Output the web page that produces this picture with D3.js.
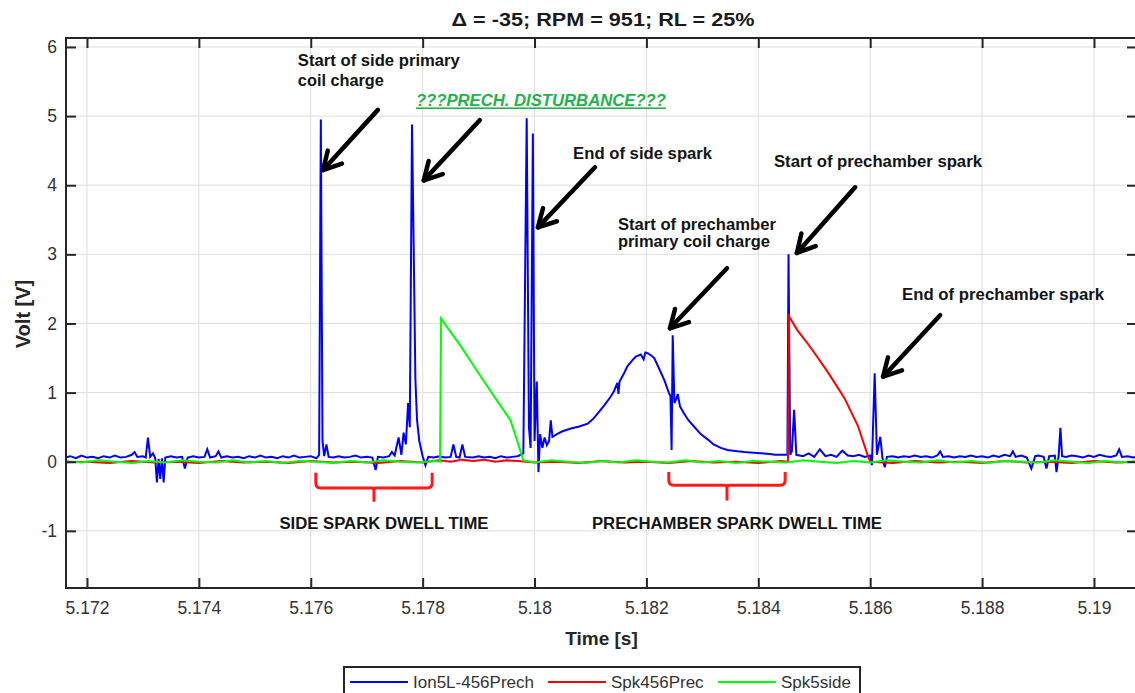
<!DOCTYPE html>
<meta charset="utf-8">
<script src="https://d3js.org/d3.v7.min.js"></script>
<style>
  body { margin: 0; background: #fff; }
  text { font-family: "Liberation Sans", Arial, sans-serif; }
</style>
<div id="chart"></div>
<script>

// ---- data ----
var xTicks = [5.172, 5.174, 5.176, 5.178, 5.18, 5.182, 5.184, 5.186, 5.188, 5.19];
var xTickLabels = ["5.172", "5.174", "5.176", "5.178", "5.18", "5.182", "5.184", "5.186", "5.188", "5.19"];
var yTicks = [-1, 0, 1, 2, 3, 4, 5, 6];
var yTickLabels = ["-1", "0", "1", "2", "3", "4", "5", "6"];
var seriesNames = ["Ion5L-456Prech", "Spk456Prec", "Spk5side"];

// Ion5L-456Prech [time s, volt]
var ion = [
  [5.17160,.06],[5.17170,.08],[5.17180,.05],[5.17190,.09],[5.17200,.06],[5.17210,.07],[5.17220,.05],
  [5.17230,.08],[5.17240,.06],[5.17250,.09],[5.17260,.06],[5.17270,.07],[5.17280,.10],[5.17285,.14],
  [5.17290,.07],[5.17300,.08],[5.17305,.06],[5.17309,.35],[5.17313,.07],[5.17318,.12],[5.17322,.05],
  [5.17325,-.30],[5.17328,.04],[5.17331,-.25],[5.17334,.05],[5.17337,-.30],[5.17340,.06],[5.17350,.08],
  [5.17360,.06],[5.17370,.07],[5.17375,-.10],[5.17380,.06],[5.17390,.08],[5.17400,.06],[5.17410,.07],
  [5.17415,.18],[5.17420,.06],[5.17430,.08],[5.17435,.15],[5.17440,.06],[5.17450,.08],[5.17460,.06],
  [5.17470,.07],[5.17480,.05],[5.17490,.08],[5.17500,.06],[5.17510,.09],[5.17520,.06],[5.17530,.07],
  [5.17540,.05],[5.17550,.08],[5.17560,.06],[5.17570,.09],[5.17580,.06],[5.17590,.07],[5.17600,.08],
  [5.17610,.05],[5.17615,.10],[5.17618,4.95],[5.17621,.30],[5.17624,.08],[5.17628,.25],[5.17632,.07],
  [5.17640,.06],[5.17650,.08],[5.17660,.06],[5.17670,.07],[5.17680,.09],[5.17690,.06],[5.17700,.07],
  [5.17710,.06],[5.17716,-.12],[5.17720,.07],[5.17730,.06],[5.17740,.08],[5.17745,.14],[5.17750,.09],
  [5.17757,.35],[5.17762,.10],[5.17766,.42],[5.17770,.25],[5.17774,.85],[5.17777,.50],[5.17781,4.88],
  [5.17784,3.10],[5.17787,1.20],[5.17790,.60],[5.17794,.30],[5.17800,.08],[5.17805,-.05],[5.17810,.07],
  [5.17820,.06],[5.17830,.08],[5.17840,.06],[5.17850,.07],[5.17855,.25],[5.17860,.07],[5.17866,.06],
  [5.17871,.25],[5.17876,.07],[5.17890,.06],[5.17900,.08],[5.17910,.06],[5.17920,.07],[5.17930,.05],
  [5.17940,.08],[5.17950,.06],[5.17960,.07],[5.17970,.08],[5.17980,.12],[5.17986,4.97],[5.17990,.50],
  [5.17993,.20],[5.17997,4.75],[5.18000,.30],[5.18004,1.16],[5.18007,-.15],[5.18010,.40],[5.18014,.20],
  [5.18018,.35],[5.18022,.24],[5.18026,.30],[5.18029,.60],[5.18032,.36],[5.18040,.40],[5.18050,.44],
  [5.18065,.48],[5.18080,.51],[5.18095,.55],[5.18105,.62],[5.18113,.70],[5.18125,.82],[5.18136,.94],
  [5.18142,1.02],[5.18148,1.14],[5.18150,.98],[5.18152,1.16],[5.18160,1.28],[5.18166,1.38],[5.18175,1.47],
  [5.18181,1.52],[5.18190,1.55],[5.18195,1.48],[5.18198,1.58],[5.18202,1.57],[5.18208,1.54],[5.18214,1.50],
  [5.18222,1.36],[5.18232,1.18],[5.18240,1.00],[5.18243,.95],[5.18245,.17],[5.18247,1.83],[5.18250,.85],
  [5.18253,.90],[5.18256,.98],[5.18260,.80],[5.18267,.70],[5.18275,.60],[5.18285,.51],[5.18297,.40],
  [5.18310,.32],[5.18320,.25],[5.18333,.20],[5.18345,.17],[5.18355,.16],[5.18363,.15],[5.18375,.14],
  [5.18392,.13],[5.18410,.12],[5.18420,.11],[5.18430,.10],[5.18446,.10],[5.18452,.10],[5.18454,3.00],
  [5.18457,.10],[5.18460,.15],[5.18464,.75],[5.18468,.10],[5.18480,.08],[5.18490,.12],[5.18500,.07],
  [5.18510,.18],[5.18520,.08],[5.18530,.10],[5.18540,.07],[5.18550,.16],[5.18560,.09],[5.18570,.08],
  [5.18580,.10],[5.18590,.07],[5.18600,.09],[5.18603,-.05],[5.18608,1.28],[5.18612,.10],[5.18618,.36],
  [5.18622,.05],[5.18626,-.08],[5.18630,.07],[5.18640,.08],[5.18650,.06],[5.18660,.08],[5.18670,.07],
  [5.18680,.09],[5.18690,.07],[5.18700,.08],[5.18710,.06],[5.18720,.09],[5.18725,.15],[5.18730,.07],
  [5.18740,.08],[5.18750,.06],[5.18760,.08],[5.18770,.07],[5.18780,.09],[5.18790,.07],[5.18800,.08],
  [5.18810,.06],[5.18820,.09],[5.18830,.07],[5.18840,.10],[5.18850,.08],[5.18855,.15],[5.18860,.07],
  [5.18870,.09],[5.18880,.06],[5.18888,-.10],[5.18895,.08],[5.18900,.09],[5.18910,.07],[5.18915,-.10],
  [5.18920,.08],[5.18930,.09],[5.18933,-.15],[5.18937,.10],[5.18940,.49],[5.18943,.08],[5.18950,.07],
  [5.18960,.09],[5.18970,.08],[5.18980,.06],[5.18990,.09],[5.19000,.07],[5.19010,.10],[5.19020,.08],
  [5.19030,.07],[5.19040,.09],[5.19045,.18],[5.19050,.07],[5.19060,.08],[5.19070,.06],[5.19080,.08]
];

// Spk456Prec
var spkPrec = [
  [5.17160,-.01],[5.17200,.00],[5.17240,-.02],[5.17280,.01],[5.17320,-.01],[5.17360,.00],[5.17400,-.02],
  [5.17440,.01],[5.17480,-.01],[5.17520,.00],[5.17560,-.02],[5.17600,.01],[5.17640,-.01],[5.17680,.00],
  [5.17720,-.02],[5.17760,.01],[5.17800,-.01],[5.17830,.02],[5.17850,.00],[5.17870,.03],[5.17890,.01],
  [5.17910,.03],[5.17930,.00],[5.17950,.02],[5.17970,.01],[5.18000,-.01],[5.18040,.00],[5.18080,-.02],
  [5.18120,.01],[5.18160,-.01],[5.18200,.00],[5.18240,-.02],[5.18280,.01],[5.18320,-.01],[5.18360,.00],
  [5.18400,-.02],[5.18440,.01],[5.18453,.00],[5.18455,2.10],[5.18470,1.90],[5.18493,1.66],[5.18524,1.30],
  [5.18554,.92],[5.18578,.52],[5.18596,.08],[5.18600,.00],[5.18640,-.02],[5.18680,.01],[5.18720,-.01],
  [5.18760,.00],[5.18800,-.02],[5.18840,.01],[5.18880,-.01],[5.18920,.00],[5.18960,-.02],[5.19000,.01],
  [5.19040,-.01],[5.19080,.00]
];

// Spk5side
var spkSide = [
  [5.17160,.01],[5.17190,-.01],[5.17220,.02],[5.17250,.00],[5.17280,-.02],[5.17310,.01],[5.17340,-.01],
  [5.17370,.02],[5.17400,.00],[5.17430,-.01],[5.17460,.02],[5.17490,-.01],[5.17520,.01],[5.17550,-.02],
  [5.17580,.01],[5.17610,.00],[5.17640,-.02],[5.17670,.01],[5.17700,-.01],[5.17730,.02],[5.17760,.00],
  [5.17790,-.01],[5.17820,.01],[5.17831,.00],[5.17833,2.07],[5.17870,1.65],[5.17900,1.28],[5.17930,.92],
  [5.17957,.60],[5.17970,.28],[5.17980,.02],[5.18000,-.01],[5.18030,.02],[5.18060,.00],[5.18090,-.02],
  [5.18120,.01],[5.18150,-.01],[5.18180,.02],[5.18210,.00],[5.18240,-.01],[5.18270,.02],[5.18300,-.01],
  [5.18330,.01],[5.18360,-.02],[5.18390,.01],[5.18420,.00],[5.18450,-.01],[5.18480,.02],[5.18510,.00],
  [5.18540,-.02],[5.18570,.01],[5.18600,-.01],[5.18630,.02],[5.18660,.00],[5.18690,-.01],[5.18720,.02],
  [5.18750,-.01],[5.18780,.01],[5.18810,-.02],[5.18840,.01],[5.18870,.00],[5.18900,-.01],[5.18930,.02],
  [5.18960,.00],[5.18990,-.02],[5.19020,.01],[5.19050,-.01],[5.19080,.01]
];

// annotation texts: [time, volt, text, width px]
var notes = [
  [5.17577, 5.72, "Start of side primary", 162],
  [5.17577, 5.43, "coil charge", 86],
  [5.18069, 4.38, "End of side spark", 139],
  [5.18149, 3.35, "Start of prechamber", 158],
  [5.18149, 3.11, "primary coil charge", 152],
  [5.18428, 4.26, "Start of prechamber spark", 208],
  [5.18657, 2.34, "End of prechamber spark", 202]
];
var disturbance = [5.17788, 5.14, "???PRECH. DISTURBANCE???", 250];

// arrows: [tail time, tail volt, tip time, tip volt]
var arrows = [
  [5.17720, 5.09, 5.17622, 4.22],
  [5.17902, 4.94, 5.17802, 4.07],
  [5.18108, 4.26, 5.18006, 3.39],
  [5.18344, 2.80, 5.18242, 1.93],
  [5.18573, 3.97, 5.18469, 3.02],
  [5.18725, 2.12, 5.18623, 1.23]
];

// dwell braces: [start, end, top volt, bottom volt, tip volt, label, label width]
var dwell = [
  [5.17609, 5.17817, -0.16, -0.38, -0.58, "SIDE SPARK DWELL TIME", 209],
  [5.18240, 5.18448, -0.15, -0.34, -0.56, "PRECHAMBER SPARK DWELL TIME", 290]
];

// ---- layout ----
var W = 1135, H = 693;
var plotL = 66, plotR = 1137, plotT = 38, plotB = 588;

var svg = d3.select("#chart").append("svg")
  .attr("width", W).attr("height", H);

var x = d3.scaleLinear().domain([5.171625, 5.190769]).range([plotL, plotR]);
var y = d3.scaleLinear().domain([-1.827, 6.13]).range([plotB, plotT]);

// grid
svg.append("g").selectAll("line").data(xTicks).enter().append("line")
  .attr("x1", function(d) { return x(d); }).attr("x2", function(d) { return x(d); })
  .attr("y1", plotT).attr("y2", plotB)
  .attr("stroke", "#dedede").attr("stroke-width", 1);
svg.append("g").selectAll("line").data(yTicks).enter().append("line")
  .attr("y1", function(d) { return y(d); }).attr("y2", function(d) { return y(d); })
  .attr("x1", plotL).attr("x2", plotR)
  .attr("stroke", "#dedede").attr("stroke-width", 1);

// clip for traces
svg.append("clipPath").attr("id", "plotclip").append("rect")
  .attr("x", plotL).attr("y", plotT).attr("width", plotR - plotL).attr("height", plotB - plotT);

var line = d3.line()
  .x(function(d) { return x(d[0]); })
  .y(function(d) { return y(d[1]); });

var traces = svg.append("g").attr("clip-path", "url(#plotclip)");
traces.append("path").datum(ion).attr("d", line)
  .attr("fill", "none").attr("stroke", "#0000ff").attr("stroke-width", 2);
traces.append("path").datum(spkPrec).attr("d", line)
  .attr("fill", "none").attr("stroke", "#ff0000").attr("stroke-width", 2);
traces.append("path").datum(spkSide).attr("d", line)
  .attr("fill", "none").attr("stroke", "#00ff00").attr("stroke-width", 2);

// axes (inward ticks on all four sides)
var axisColor = "#262626";
function styleAxis(g) {
  g.select(".domain").remove();
  g.selectAll(".tick line").attr("stroke", axisColor).attr("stroke-width", 2);
  g.selectAll(".tick text").attr("fill", "#333")
    .style("font-size", "17.5px");
}
svg.append("g")
  .attr("transform", "translate(0," + plotB + ")")
  .call(d3.axisBottom(x).tickValues(xTicks).tickSize(-10).tickPadding(14)
    .tickFormat(function(d, i) { return xTickLabels[i]; }))
  .call(styleAxis);
svg.append("g")
  .attr("transform", "translate(0," + plotT + ")")
  .call(d3.axisTop(x).tickValues(xTicks).tickSize(-10).tickFormat(""))
  .call(styleAxis);
svg.append("g")
  .attr("transform", "translate(" + plotL + ",0)")
  .call(d3.axisLeft(y).tickValues(yTicks).tickSize(-10).tickPadding(9)
    .tickFormat(function(d, i) { return yTickLabels[i]; }))
  .call(styleAxis);
svg.append("g")
  .attr("transform", "translate(" + plotR + ",0)")
  .call(d3.axisRight(y).tickValues(yTicks).tickSize(-10).tickFormat(""))
  .call(styleAxis);

// box
svg.append("rect")
  .attr("x", plotL).attr("y", plotT).attr("width", plotR - plotL).attr("height", plotB - plotT)
  .attr("fill", "none").attr("stroke", axisColor).attr("stroke-width", 2);

// title and axis labels
svg.append("text")
  .attr("x", 603).attr("y", 26)
  .attr("text-anchor", "middle")
  .attr("textLength", 303).attr("lengthAdjust", "spacingAndGlyphs")
  .style("font-size", "18px").style("font-weight", "bold").attr("fill", "#1a1a1a")
  .text("\u0394 = -35; RPM = 951; RL = 25%");

svg.append("text")
  .attr("x", (plotL + plotR) / 2).attr("y", 645)
  .attr("text-anchor", "middle")
  .style("font-size", "19px").style("font-weight", "bold").attr("fill", axisColor)
  .text("Time [s]");

svg.append("text")
  .attr("transform", "translate(30,314) rotate(-90)")
  .attr("text-anchor", "middle")
  .style("font-size", "20px").style("font-weight", "bold").attr("fill", axisColor)
  .text("Volt [V]");

// annotations
svg.append("g").selectAll("text").data(notes).enter().append("text")
  .attr("x", function(d) { return x(d[0]); })
  .attr("y", function(d) { return y(d[1]); })
  .attr("textLength", function(d) { return d[3]; })
  .attr("lengthAdjust", "spacingAndGlyphs")
  .style("font-size", "16px").style("font-weight", "bold")
  .attr("fill", "#141414")
  .text(function(d) { return d[2]; });

svg.append("text")
  .attr("x", x(disturbance[0])).attr("y", y(disturbance[1]))
  .attr("textLength", disturbance[3]).attr("lengthAdjust", "spacingAndGlyphs")
  .style("font-size", "16px").style("font-weight", "bold").style("font-style", "italic")
  .style("text-decoration", "underline")
  .attr("fill", "#22b24c")
  .text(disturbance[2]);

// arrows
var arrowG = svg.append("g")
  .attr("stroke", "#000").attr("stroke-width", 4.5)
  .attr("stroke-linecap", "round").attr("fill", "none");
arrows.forEach(function(a) {
  var x0 = x(a[0]), y0 = y(a[1]), x1 = x(a[2]), y1 = y(a[3]);
  var ang = Math.atan2(y0 - y1, x0 - x1);
  var len = 20, spread = 0.5;
  arrowG.append("line").attr("x1", x0).attr("y1", y0).attr("x2", x1).attr("y2", y1);
  arrowG.append("polyline")
    .attr("stroke-linejoin", "round")
    .attr("points", [
      [x1 + len * Math.cos(ang - spread), y1 + len * Math.sin(ang - spread)],
      [x1, y1],
      [x1 + len * Math.cos(ang + spread), y1 + len * Math.sin(ang + spread)]
    ].map(function(p) { return p.join(","); }).join(" "));
});

// dwell braces
dwell.forEach(function(b) {
  var xa = x(b[0]), xb = x(b[1]), xm = (xa + xb) / 2;
  var yt = y(b[2]), yb = y(b[3]), ytip = y(b[4]), r = 5;
  var p = d3.path();
  p.moveTo(xa, yt);
  p.lineTo(xa, yb - r);
  p.quadraticCurveTo(xa, yb, xa + r, yb);
  p.lineTo(xm - 2, yb);
  p.quadraticCurveTo(xm, yb, xm, yb + 3);
  p.lineTo(xm, ytip);
  p.moveTo(xm, yb + 3);
  p.quadraticCurveTo(xm, yb, xm + 2, yb);
  p.lineTo(xb - r, yb);
  p.quadraticCurveTo(xb, yb, xb, yb - r);
  p.lineTo(xb, yt);
  svg.append("path").attr("d", p.toString())
    .attr("fill", "none").attr("stroke", "#ff1a1a").attr("stroke-width", 3);
  svg.append("text")
    .attr("x", xm + 10).attr("y", y(-0.98))
    .attr("text-anchor", "middle")
    .attr("textLength", b[6]).attr("lengthAdjust", "spacingAndGlyphs")
    .style("font-size", "16px").style("font-weight", "bold")
    .attr("fill", "#141414")
    .text(b[5]);
});

// legend
var colors = ["#0000ff", "#ff0000", "#00ff00"];
var legX = [350, 548, 718];
var legend = svg.append("g");
legend.append("rect")
  .attr("x", 344).attr("y", 667).attr("width", 516).attr("height", 40)
  .attr("fill", "#fff").attr("stroke", axisColor).attr("stroke-width", 2);
seriesNames.forEach(function(name, i) {
  legend.append("line")
    .attr("x1", legX[i]).attr("x2", legX[i] + 58)
    .attr("y1", 682).attr("y2", 682)
    .attr("stroke", colors[i]).attr("stroke-width", 2);
  legend.append("text")
    .attr("x", legX[i] + 63).attr("y", 688)
    .style("font-size", "17px").attr("fill", "#333")
    .text(name);
});

</script>
